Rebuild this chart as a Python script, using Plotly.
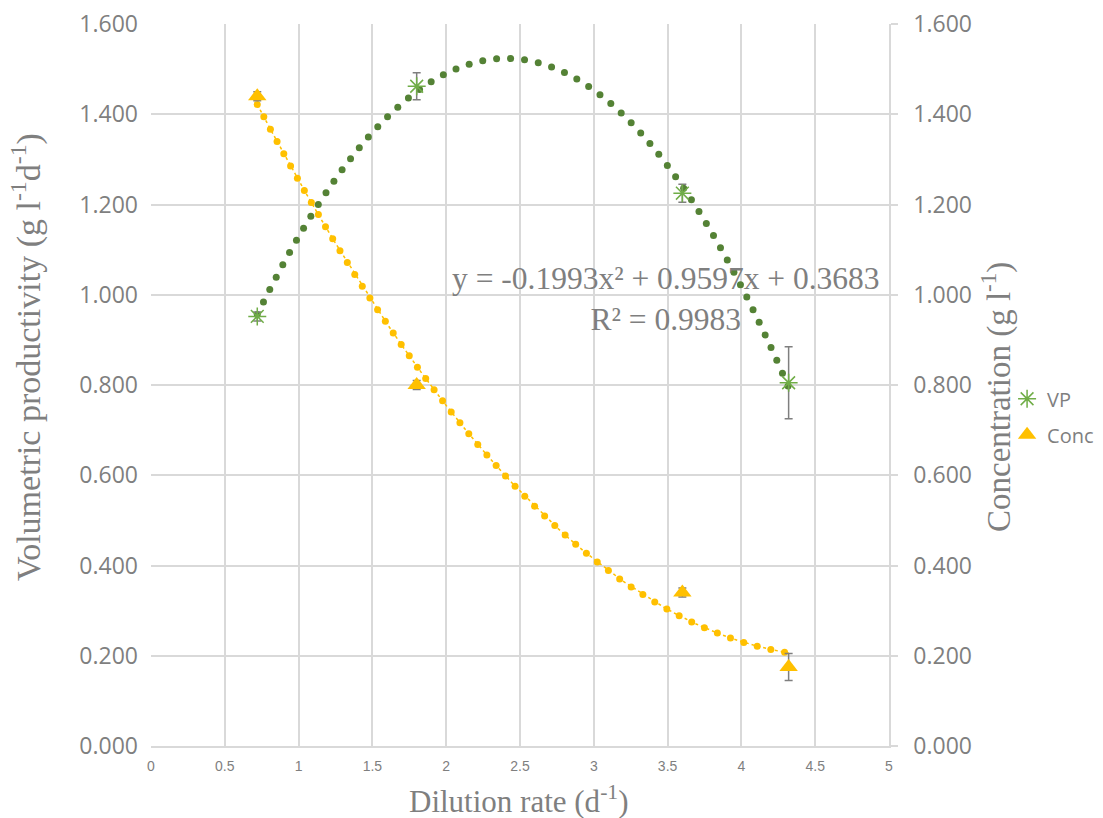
import numpy as np
import plotly.graph_objects as go

# Data
dilution = [0.72, 1.80, 3.60, 4.32]
vp = [0.952, 1.462, 1.225, 0.805]
vp_err = [0.010, 0.030, 0.020, 0.080]
conc = [1.440, 0.800, 0.340, 0.175]
conc_err = [0.010, 0.010, 0.010, 0.030]
vp_coef = [-0.1993, 0.9597, 0.3683]  # from displayed trendline equation
eq_text = "y = -0.1993x² + 0.9597x + 0.3683<br>R² = 0.9983"
x_range = [0, 5]
y_range = [0, 1.6]
y_ticks = [0.0, 0.2, 0.4, 0.6, 0.8, 1.0, 1.2, 1.4, 1.6]
y_ticktext = ["0.000", "0.200", "0.400", "0.600", "0.800", "1.000", "1.200", "1.400", "1.600"]

GREEN = "#548235"
LGREEN = "#70AD47"
YELLOW = "#FFC000"
GRAY = "#7f7f7f"
GRID = "#d9d9d9"

# page is offset by the browser's 8px body margin
OFF = 8
W, H = 1103, 818
PL, PR, PT, PB = 151, 889, 24, 746          # plot area in page pixels
ML, MT = PL - OFF, PT - OFF
MR, MB = W - (PR - OFF), H - (PB - OFF)
plot_w = PR - PL
plot_h = PB - PT


def dotted(coef, spacing=14.0):
    """Sample a polynomial trendline at equal on-screen spacing (round-dot look)."""
    xf = np.linspace(min(dilution), max(dilution), 4000)
    yf = np.polyval(coef, xf)
    sx = plot_w / (x_range[1] - x_range[0])
    sy = plot_h / (y_range[1] - y_range[0])
    seg = np.hypot(np.diff(xf) * sx, np.diff(yf) * sy)
    s = np.concatenate([[0], np.cumsum(seg)])
    targets = np.arange(0, s[-1] + 0.01, spacing)
    xd = np.interp(targets, s, xf)
    return xd, np.polyval(coef, xd), xf, yf


conc_coef = np.polyfit(dilution, conc, 2)
vx, vy, _, _ = dotted(vp_coef)
cx, cy, cxf, cyf = dotted(conc_coef)

fig = go.Figure()

fig.add_trace(go.Scatter(x=cxf, y=cyf, mode="lines", showlegend=False, hoverinfo="skip",
                         yaxis="y2", line=dict(color=YELLOW, width=1.5, dash="dot")))
fig.add_trace(go.Scatter(x=vx, y=vy, mode="markers", showlegend=False, hoverinfo="skip",
                         marker=dict(color=GREEN, size=7, line=dict(width=0))))
fig.add_trace(go.Scatter(x=cx, y=cy, mode="markers", showlegend=False, hoverinfo="skip",
                         yaxis="y2", marker=dict(color=YELLOW, size=7, line=dict(width=0))))

fig.add_trace(go.Scatter(x=dilution, y=vp, mode="markers", name="VP", legendgroup="vp",
                         marker=dict(symbol="asterisk-open", size=15,
                                     line=dict(color=LGREEN, width=1.5), color=LGREEN),
                         error_y=dict(type="data", array=vp_err, color=GRAY, thickness=1.5, width=4)))
fig.add_trace(go.Scatter(x=dilution, y=conc, mode="markers", name="Conc", yaxis="y2", legendgroup="conc",
                         marker=dict(symbol="triangle-up", size=16, color=YELLOW),
                         error_y=dict(type="data", array=conc_err, color=GRAY, thickness=1.5, width=4)))

serif = "Liberation Serif, Times New Roman, serif"
fig.add_annotation(x=3.49, y=0.99, xref="x", yref="y", text=eq_text, showarrow=False,
                   align="center", font=dict(family=serif, size=31.5, color=GRAY))

fig.add_annotation(x=(26 - PL) / plot_w, y=(PB - 357) / plot_h, xref="paper", yref="paper",
                   text="Volumetric productivity (g l<sup>-1</sup>d<sup>-1</sup>)", textangle=-90,
                   showarrow=False, xanchor="center", yanchor="middle",
                   font=dict(family=serif, size=34, color=GRAY))
fig.add_annotation(x=(996 - PL) / plot_w, y=(PB - 397) / plot_h, xref="paper", yref="paper",
                   text="Concentration (g l<sup>-1</sup>)", textangle=-90,
                   showarrow=False, xanchor="center", yanchor="middle",
                   font=dict(family=serif, size=33, color=GRAY))
fig.add_annotation(x=(519 - PL) / plot_w, y=(PB - 799) / plot_h, xref="paper", yref="paper",
                   text="Dilution rate (d<sup>-1</sup>)",
                   showarrow=False, xanchor="center", yanchor="middle",
                   font=dict(family=serif, size=31, color=GRAY))

tick_font = dict(family="Open Sans, sans-serif", size=23, color=GRAY)

fig.update_layout(
    width=W, height=H,
    margin=dict(l=ML, r=MR, t=MT, b=MB, autoexpand=False),
    paper_bgcolor="white", plot_bgcolor="white",
    xaxis=dict(range=x_range, dtick=0.5, tick0=0, showgrid=True, gridcolor=GRID, gridwidth=1.5,
               zeroline=False, showline=True, linecolor=GRID, linewidth=1.5, automargin=False,
               ticklabelstandoff=6, ticklabeloverflow="allow",
               tickfont=dict(family="Liberation Sans Narrow, Liberation Sans, sans-serif", size=14, color=GRAY)),
    yaxis=dict(range=y_range, tickmode="array", tickvals=y_ticks, ticktext=y_ticktext, showgrid=True,
               gridcolor=GRID, gridwidth=1.5, zeroline=False, showline=False, automargin=False,
               tickfont=tick_font, ticks="", ticklabelstandoff=12, ticklabeloverflow="allow"),
    yaxis2=dict(range=y_range, tickmode="array", tickvals=y_ticks, ticktext=y_ticktext,
                overlaying="y", side="right",
                showgrid=False, zeroline=False, showline=True, linecolor=GRID, linewidth=1.5,
                ticks="outside", ticklen=7, tickcolor=GRID, tickwidth=1.5, tickfont=tick_font,
                ticklabelstandoff=11, automargin=False, ticklabeloverflow="allow"),
    legend=dict(x=1.16, y=0.456, xanchor="left", yanchor="middle",
                font=dict(family="Open Sans, sans-serif", size=20, color=GRAY),
                bgcolor="rgba(0,0,0,0)", tracegroupgap=7),
)

fig.write_html("out.html")
